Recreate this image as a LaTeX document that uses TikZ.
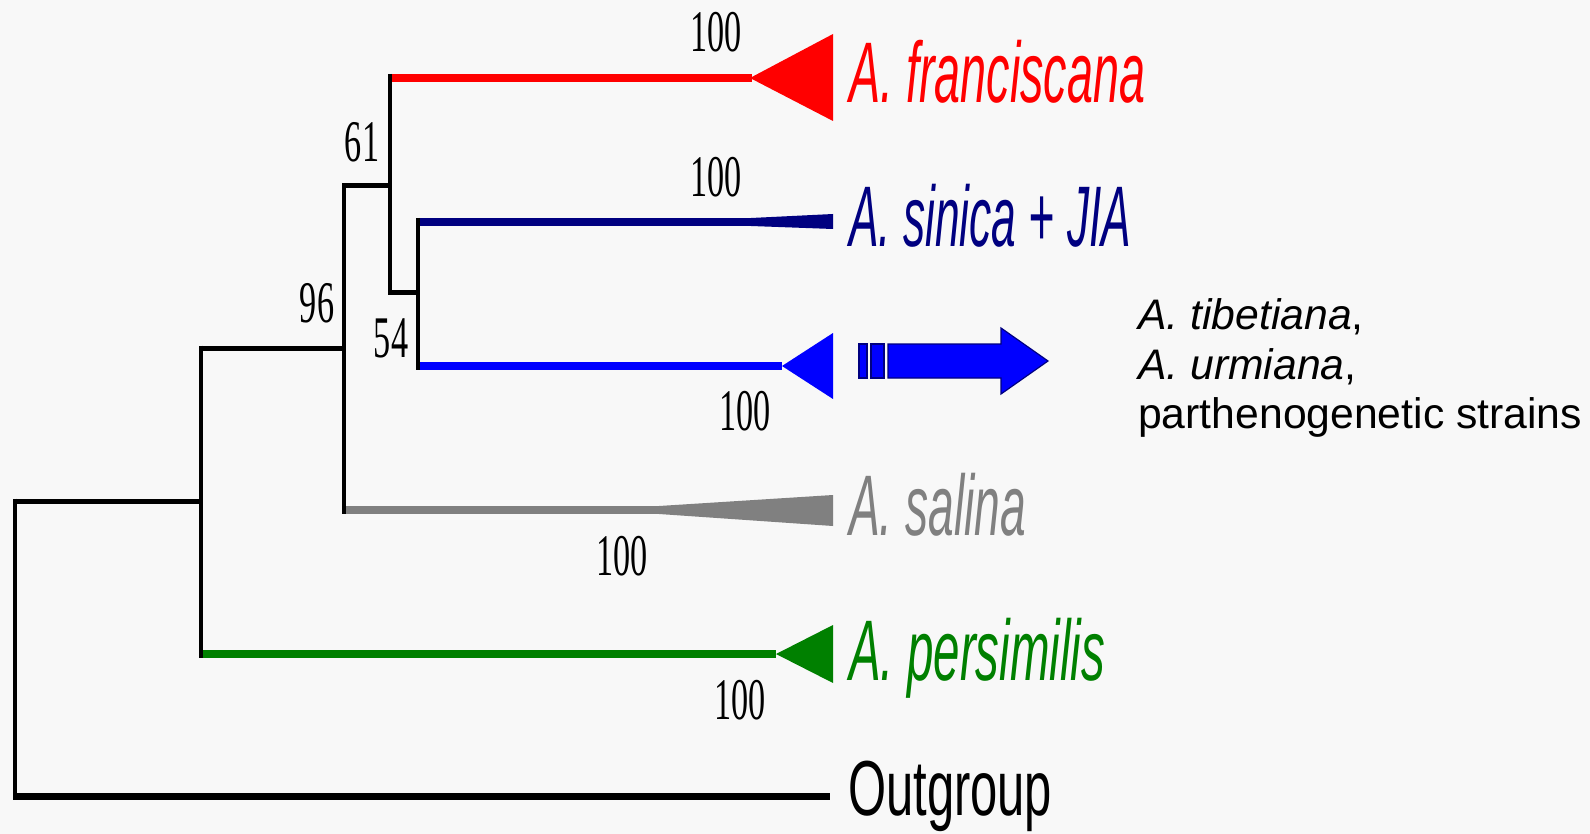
\documentclass[tikz,border=0pt]{standalone}
\usepackage{fontspec}
\setmainfont{Liberation Serif}
\newfontfamily\arialfont{Liberation Sans}
\usepackage{graphicx}
\definecolor{bgc}{RGB}{248,248,248}
\definecolor{navyc}{RGB}{0,0,128}
\definecolor{grayc}{RGB}{128,128,128}
\definecolor{greenc}{RGB}{0,128,0}
\definecolor{bluec}{RGB}{0,0,255}
\definecolor{redc}{RGB}{255,0,0}
\tikzset{
  vline/.style={line width=3.4pt},
  hline/.style={line width=5pt},
  clade/.style={line width=8pt},
  outline/.style={line width=7pt},
  boot/.style={inner sep=0pt, font=\fontsize{59}{59}\selectfont},
  taxon/.style={inner sep=0pt, anchor=base west, font=\arialfont\itshape\fontsize{86}{86}\selectfont},
  note/.style={inner sep=0pt, anchor=base west, font=\arialfont\fontsize{42.7}{42.7}\selectfont},
  blockarrow/.style={fill=bluec, draw=navyc, line width=1.2pt, line join=miter},
}
\newcommand{\nrw}[2]{\resizebox{#1pt}{\height}{#2}}
\newcommand{\boottext}[1]{\scalebox{0.58}[1]{#1}}
\begin{document}
\begin{tikzpicture}[x=1pt,y=-1pt]
\fill[bgc] (0,0) rectangle (1590,834);
\useasboundingbox (0,0) rectangle (1590,834);

% tree nodes
\coordinate (rtop) at (15,501);
\coordinate (rbot) at (15,796);
\coordinate (a) at (201,501);
\coordinate (atop) at (201,348);
\coordinate (abot) at (201,654);
\coordinate (b) at (344,348);
\coordinate (btop) at (344,186);
\coordinate (bbot) at (344,510);
\coordinate (c) at (390,186);
\coordinate (ctop) at (390,78);
\coordinate (cbot) at (390,293);
\coordinate (d) at (418,293);
\coordinate (dtop) at (418,222);
\coordinate (dbot) at (418,366);
% tips
\coordinate (fr) at (752,78);
\coordinate (si) at (751,222);
\coordinate (bl) at (782,366);
\coordinate (sa) at (659,510);
\coordinate (pe) at (776,654);
\coordinate (og) at (830,796);

% coloured clades
\draw[clade, redc] (ctop) -- (fr);
\fill[redc] (750,78) -- (833,34) -- (833,121) -- cycle;
\draw[clade, navyc] (dtop) -- (si);
\fill[navyc] (751,218) -- (833,214) -- (833,229) -- (751,226) -- cycle;
\draw[clade, bluec] (dbot) -- (bl);
\fill[bluec] (782,366) -- (833,333) -- (833,399) -- cycle;
\draw[clade, grayc] (bbot) -- (sa);
\fill[grayc] (659,506) -- (833,495) -- (833,526) -- (659,514) -- cycle;
\draw[clade, greenc] (abot) -- (pe);
\fill[greenc] (776,654) -- (833,625) -- (833,683) -- cycle;
\draw[outline, black] (rbot) -- (og);

% black skeleton
\draw[hline] (rtop) -- (a);
\draw[hline] (atop) -- (b);
\draw[hline] (btop) -- (c);
\draw[hline] (cbot) -- (d);
\draw[vline] (15,498.5) -- (15,799.5);
\draw[vline] (201,345.5) -- (201,658);
\draw[vline] (344,183.5) -- (344,514);
\draw[vline] (390,74) -- (390,295.5);
\draw[vline] (418,218) -- (418,370);

% bootstrap values
\node[boot] (b1) at (716,32) {\boottext{100}};
\node[boot] (b2) at (716,177) {\boottext{100}};
\node[boot] (b3) at (745,411) {\boottext{100}};
\node[boot] (b4) at (622,556) {\boottext{100}};
\node[boot] (b5) at (740,700) {\boottext{100}};
\node[boot] (b61) at (362,142) {\boottext{61}};
\node[boot] (b96) at (317,303) {\boottext{96}};
\node[boot] (b54) at (391,338) {\boottext{54}};

% taxon labels
\node[taxon, text=redc] (tfr) at (849,103) {\nrw{296}{A. franciscana}};
\node[taxon, text=navyc] (tsi) at (849,247) {\nrw{282}{A. sinica + JIA}};
\node[taxon, text=grayc] (tsa) at (849,535) {\nrw{177}{A. salina}};
\node[taxon, text=greenc] (tpe) at (849,680) {\nrw{256}{A. persimilis}};
\node[taxon, font=\arialfont\fontsize{78}{78}\selectfont] (tog) at (848,815) {\nrw{204}{Outgroup}};

% blue block arrow
\filldraw[blockarrow] (859,344) rectangle (867,378);
\filldraw[blockarrow] (871,344) rectangle (884,378);
\filldraw[blockarrow] (888,344) -- (1001,344) -- (1001,328) -- (1048,361) -- (1001,394) -- (1001,378) -- (888,378) -- cycle;

% note
\node[note] (n1) at (1138,330) {\textit{A. tibetiana},};
\node[note] (n2) at (1138,379) {\textit{A. urmiana},};
\node[note] (n3) at (1138,428) {parthenogenetic strains};
\end{tikzpicture}
\end{document}
